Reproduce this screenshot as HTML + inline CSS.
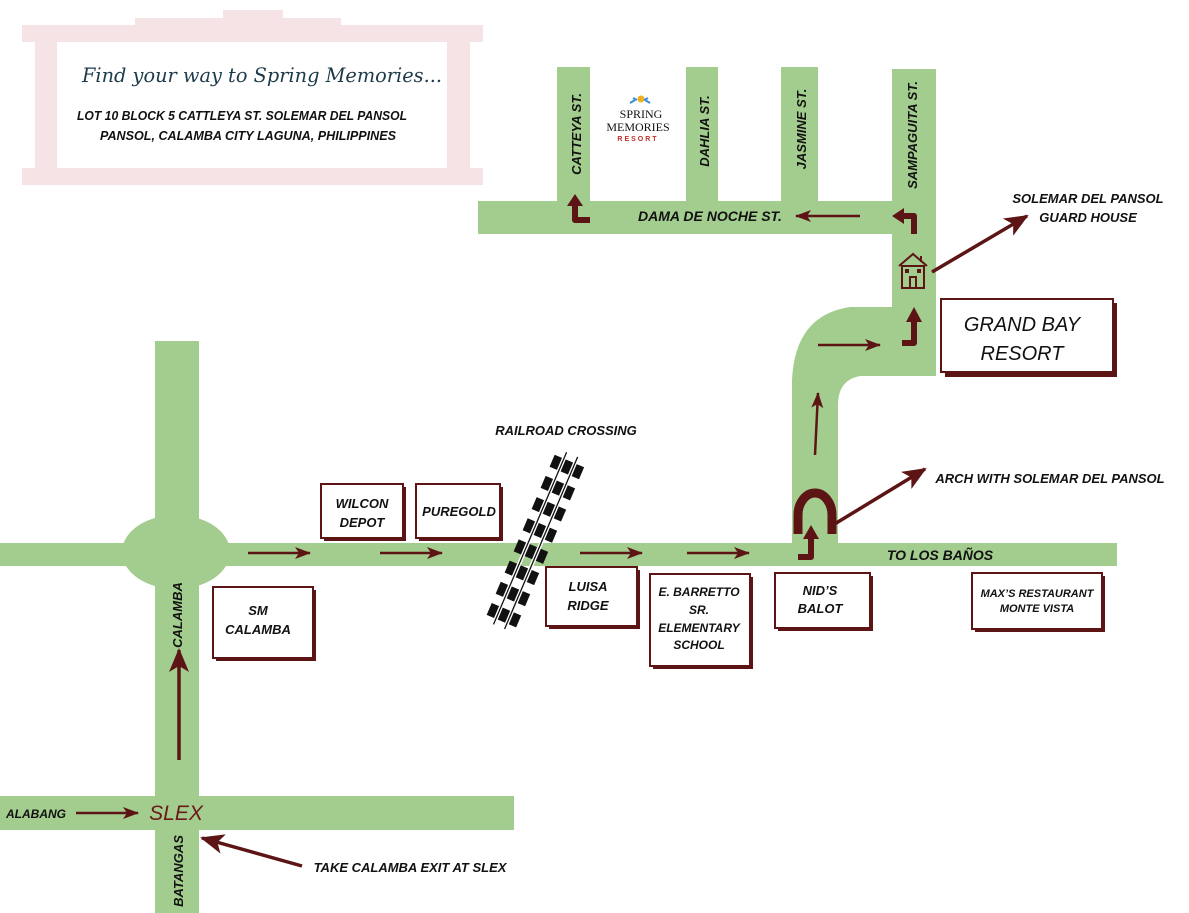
<!DOCTYPE html>
<html><head><meta charset="utf-8"><style>
html,body{margin:0;padding:0;background:#fff;width:1189px;height:913px;overflow:hidden}
svg{display:block}
text{font-family:"Liberation Sans","DejaVu Sans",sans-serif;font-style:italic;font-weight:bold;fill:#111}
</style></head><body>
<svg width="1189" height="913" viewBox="0 0 1189 913" xmlns="http://www.w3.org/2000/svg">
<defs>
<marker id="ah" markerWidth="16" markerHeight="12" refX="15" refY="6" orient="auto" markerUnits="userSpaceOnUse">
<path d="M0,0 L16,6 L0,12 L4,6 Z" fill="#5c1414"/></marker>
<marker id="ahb" markerWidth="24" markerHeight="20" refX="22" refY="10" orient="auto" markerUnits="userSpaceOnUse">
<path d="M0,0 L24,10 L0,20 L6,10 Z" fill="#5c1414"/></marker>
</defs>
<!-- title frame -->
<g fill="#f5e3e5">
<rect x="223" y="10" width="60" height="10"/>
<rect x="135" y="18" width="206" height="10"/>
<rect x="22" y="25" width="461" height="17"/>
<rect x="35" y="25" width="22" height="160"/>
<rect x="447" y="25" width="23" height="160"/>
<rect x="22" y="168" width="461" height="17"/>
</g>
<rect x="57" y="42" width="390" height="126" fill="#fff"/>
<text x="262" y="82" text-anchor="middle" style="font-family:'DejaVu Serif',serif;font-size:20px;fill:#1d3b4a;font-weight:normal" textLength="360" lengthAdjust="spacingAndGlyphs">Find your way to Spring Memories...</text>
<text x="242" y="120" text-anchor="middle" font-size="13" textLength="330" lengthAdjust="spacingAndGlyphs">LOT 10 BLOCK 5 CATTLEYA ST. SOLEMAR DEL PANSOL</text>
<text x="248" y="140" text-anchor="middle" font-size="13" textLength="296" lengthAdjust="spacingAndGlyphs">PANSOL, CALAMBA CITY LAGUNA, PHILIPPINES</text>

<!-- roads -->
<g fill="#a3cd8e">
<rect x="0" y="543" width="1117" height="23"/>
<rect x="155" y="341" width="44" height="572"/>
<ellipse cx="176" cy="552" rx="54" ry="37"/>
<rect x="0" y="796" width="514" height="34"/>
<rect x="478" y="201" width="458" height="33"/>
<rect x="557" y="67" width="33" height="140"/>
<rect x="686" y="67" width="32" height="140"/>
<rect x="781" y="67" width="37" height="140"/>
<rect x="892" y="69" width="44" height="307"/>
<path d="M792,546 L792,380 Q795,315 850,307 L900,307 L900,376 L860,376 Q838,380 838,405 L838,546 Z"/>
</g>

<!-- railroad -->
<g transform="translate(535,542) rotate(23)">
<g fill="#111">
<rect x="-16" y="-88" width="32" height="13"/><rect x="-16" y="-65" width="32" height="13"/>
<rect x="-16" y="-42" width="32" height="13"/><rect x="-16" y="-19" width="32" height="13"/>
<rect x="-16" y="4" width="32" height="13"/><rect x="-16" y="27" width="32" height="13"/>
<rect x="-16" y="50" width="32" height="13"/><rect x="-16" y="73" width="32" height="13"/>
</g>
<line x1="-6" y1="-95" x2="-6" y2="92" stroke="#fff" stroke-width="4"/>
<line x1="6" y1="-95" x2="6" y2="92" stroke="#fff" stroke-width="4"/>
<line x1="-6" y1="-95" x2="-6" y2="92" stroke="#111" stroke-width="1.3"/>
<line x1="6" y1="-95" x2="6" y2="92" stroke="#111" stroke-width="1.3"/>
</g>
<text x="566" y="435" text-anchor="middle" font-size="13">RAILROAD CROSSING</text>

<!-- arrows -->
<g stroke="#5c1414" stroke-width="2.5" fill="none" marker-end="url(#ah)">
<line x1="248" y1="553" x2="310" y2="553"/>
<line x1="380" y1="553" x2="442" y2="553"/>
<line x1="580" y1="553" x2="642" y2="553"/>
<line x1="687" y1="553" x2="749" y2="553"/>
<line x1="76" y1="813" x2="138" y2="813"/>
<line x1="818" y1="345" x2="880" y2="345"/>
<line x1="860" y1="216" x2="796" y2="216"/>
<line x1="815" y1="455" x2="818" y2="393"/>
</g>
<g stroke="#5c1414" stroke-width="3.5" fill="none" marker-end="url(#ahb)">
<line x1="179" y1="760" x2="179" y2="650"/>
<line x1="302" y1="866" x2="202" y2="838"/>
<line x1="932" y1="272" x2="1027" y2="216"/>
<line x1="833" y1="525" x2="925" y2="469"/>
</g>
<!-- turn arrows -->
<g stroke="#5c1414" stroke-width="6" fill="none" stroke-linejoin="round">
<path d="M590,220 L575,220 L575,205"/>
<path d="M914,234 L914,216 L902,216"/>
<path d="M902,343 L914,343 L914,320"/>
<path d="M798,557 L811,557 L811,538"/>
</g>
<g fill="#5c1414">
<path d="M567,206 L575,194 L583,206 Z"/>
<path d="M904,208 L892,216 L904,224 Z"/>
<path d="M906,322 L914,307 L922,322 Z"/>
<path d="M803,539 L811,525 L819,539 Z"/>
</g>
<!-- arch -->
<path d="M798,534 L798,515 A17,22 0 0 1 832,515 L832,534" stroke="#5c1414" stroke-width="9" fill="none"/>
<!-- house -->
<g stroke="#5c1414" stroke-width="2" fill="none">
<path d="M899,266 L913,254 L927,266"/>
<rect x="902" y="266" width="22" height="22"/>
<rect x="910" y="277" width="6" height="11"/>
<line x1="921" y1="256" x2="921" y2="262"/>
</g>
<rect x="905" y="269" width="4" height="4" fill="#5c1414"/><rect x="917" y="269" width="4" height="4" fill="#5c1414"/>

<!-- boxes: shadow then box -->
<g fill="#5c1414">
<rect x="324" y="487" width="82" height="54"/>
<rect x="419" y="487" width="84" height="54"/>
<rect x="216" y="590" width="100" height="71"/>
<rect x="549" y="570" width="91" height="59"/>
<rect x="653" y="577" width="100" height="92"/>
<rect x="778" y="576" width="95" height="55"/>
<rect x="975" y="576" width="130" height="56"/>
<rect x="945" y="303" width="172" height="74"/>
</g>
<g fill="#fff" stroke="#5c1414" stroke-width="2">
<rect x="321" y="484" width="82" height="54"/>
<rect x="416" y="484" width="84" height="54"/>
<rect x="213" y="587" width="100" height="71"/>
<rect x="546" y="567" width="91" height="59"/>
<rect x="650" y="574" width="100" height="92"/>
<rect x="775" y="573" width="95" height="55"/>
<rect x="972" y="573" width="130" height="56"/>
<rect x="941" y="299" width="172" height="73"/>
</g>

<!-- labels -->
<g font-size="13" text-anchor="middle">
<text x="362" y="508">WILCON</text><text x="362" y="527">DEPOT</text>
<text x="459" y="516">PUREGOLD</text>
<text x="258" y="615">SM</text><text x="258" y="634">CALAMBA</text>
<text x="588" y="591">LUISA</text><text x="588" y="610">RIDGE</text>
<text x="699" y="596" font-size="12">E. BARRETTO</text><text x="699" y="614" font-size="12">SR.</text>
<text x="699" y="632" font-size="12">ELEMENTARY</text><text x="699" y="649" font-size="12">SCHOOL</text>
<text x="820" y="595">NID’S</text><text x="820" y="613">BALOT</text>
<text x="1037" y="597" font-size="11">MAX’S RESTAURANT</text><text x="1037" y="612" font-size="11">MONTE VISTA</text>
<text x="1022" y="331" font-size="20" style="font-weight:normal">GRAND BAY</text>
<text x="1022" y="360" font-size="20" style="font-weight:normal">RESORT</text>
<text x="1088" y="203">SOLEMAR DEL PANSOL</text>
<text x="1088" y="222">GUARD HOUSE</text>
<text x="1050" y="483">ARCH WITH SOLEMAR DEL PANSOL</text>
<text x="940" y="560" font-size="14">TO LOS BAÑOS</text>
<text x="710" y="221" font-size="14">DAMA DE NOCHE ST.</text>
<text x="410" y="872">TAKE CALAMBA EXIT AT SLEX</text>
<text x="36" y="818" font-size="12">ALABANG</text>
<text x="176" y="820" font-size="21" style="fill:#6b1a1a;font-weight:normal">SLEX</text>
</g>
<g font-size="13" text-anchor="middle">
<text transform="translate(581,134) rotate(-90)">CATTEYA ST.</text>
<text transform="translate(709,131) rotate(-90)">DAHLIA ST.</text>
<text transform="translate(806,129) rotate(-90)">JASMINE ST.</text>
<text transform="translate(917,135) rotate(-90)">SAMPAGUITA ST.</text>
<text transform="translate(182,615) rotate(-90)">CALAMBA</text>
<text transform="translate(183,871) rotate(-90)">BATANGAS</text>
</g>
<!-- logo -->
<g text-anchor="middle">
<circle cx="641" cy="99" r="3.5" fill="#f0b020"/>
<path d="M630,103 l5,-3 M650,103 l-5,-3 M633,98 l4,2 M648,98 l-4,2" stroke="#3a8fd8" stroke-width="2"/>
<text x="641" y="118" font-size="12" style="font-family:'Liberation Serif',serif;font-style:normal;font-weight:normal">SPRING</text>
<text x="638" y="131" font-size="12" style="font-family:'Liberation Serif',serif;font-style:normal;font-weight:normal">MEMORIES</text>
<text x="638" y="141" font-size="7" style="fill:#c0302a;font-style:normal" letter-spacing="2">RESORT</text>
</g>
</svg>
</body></html>
